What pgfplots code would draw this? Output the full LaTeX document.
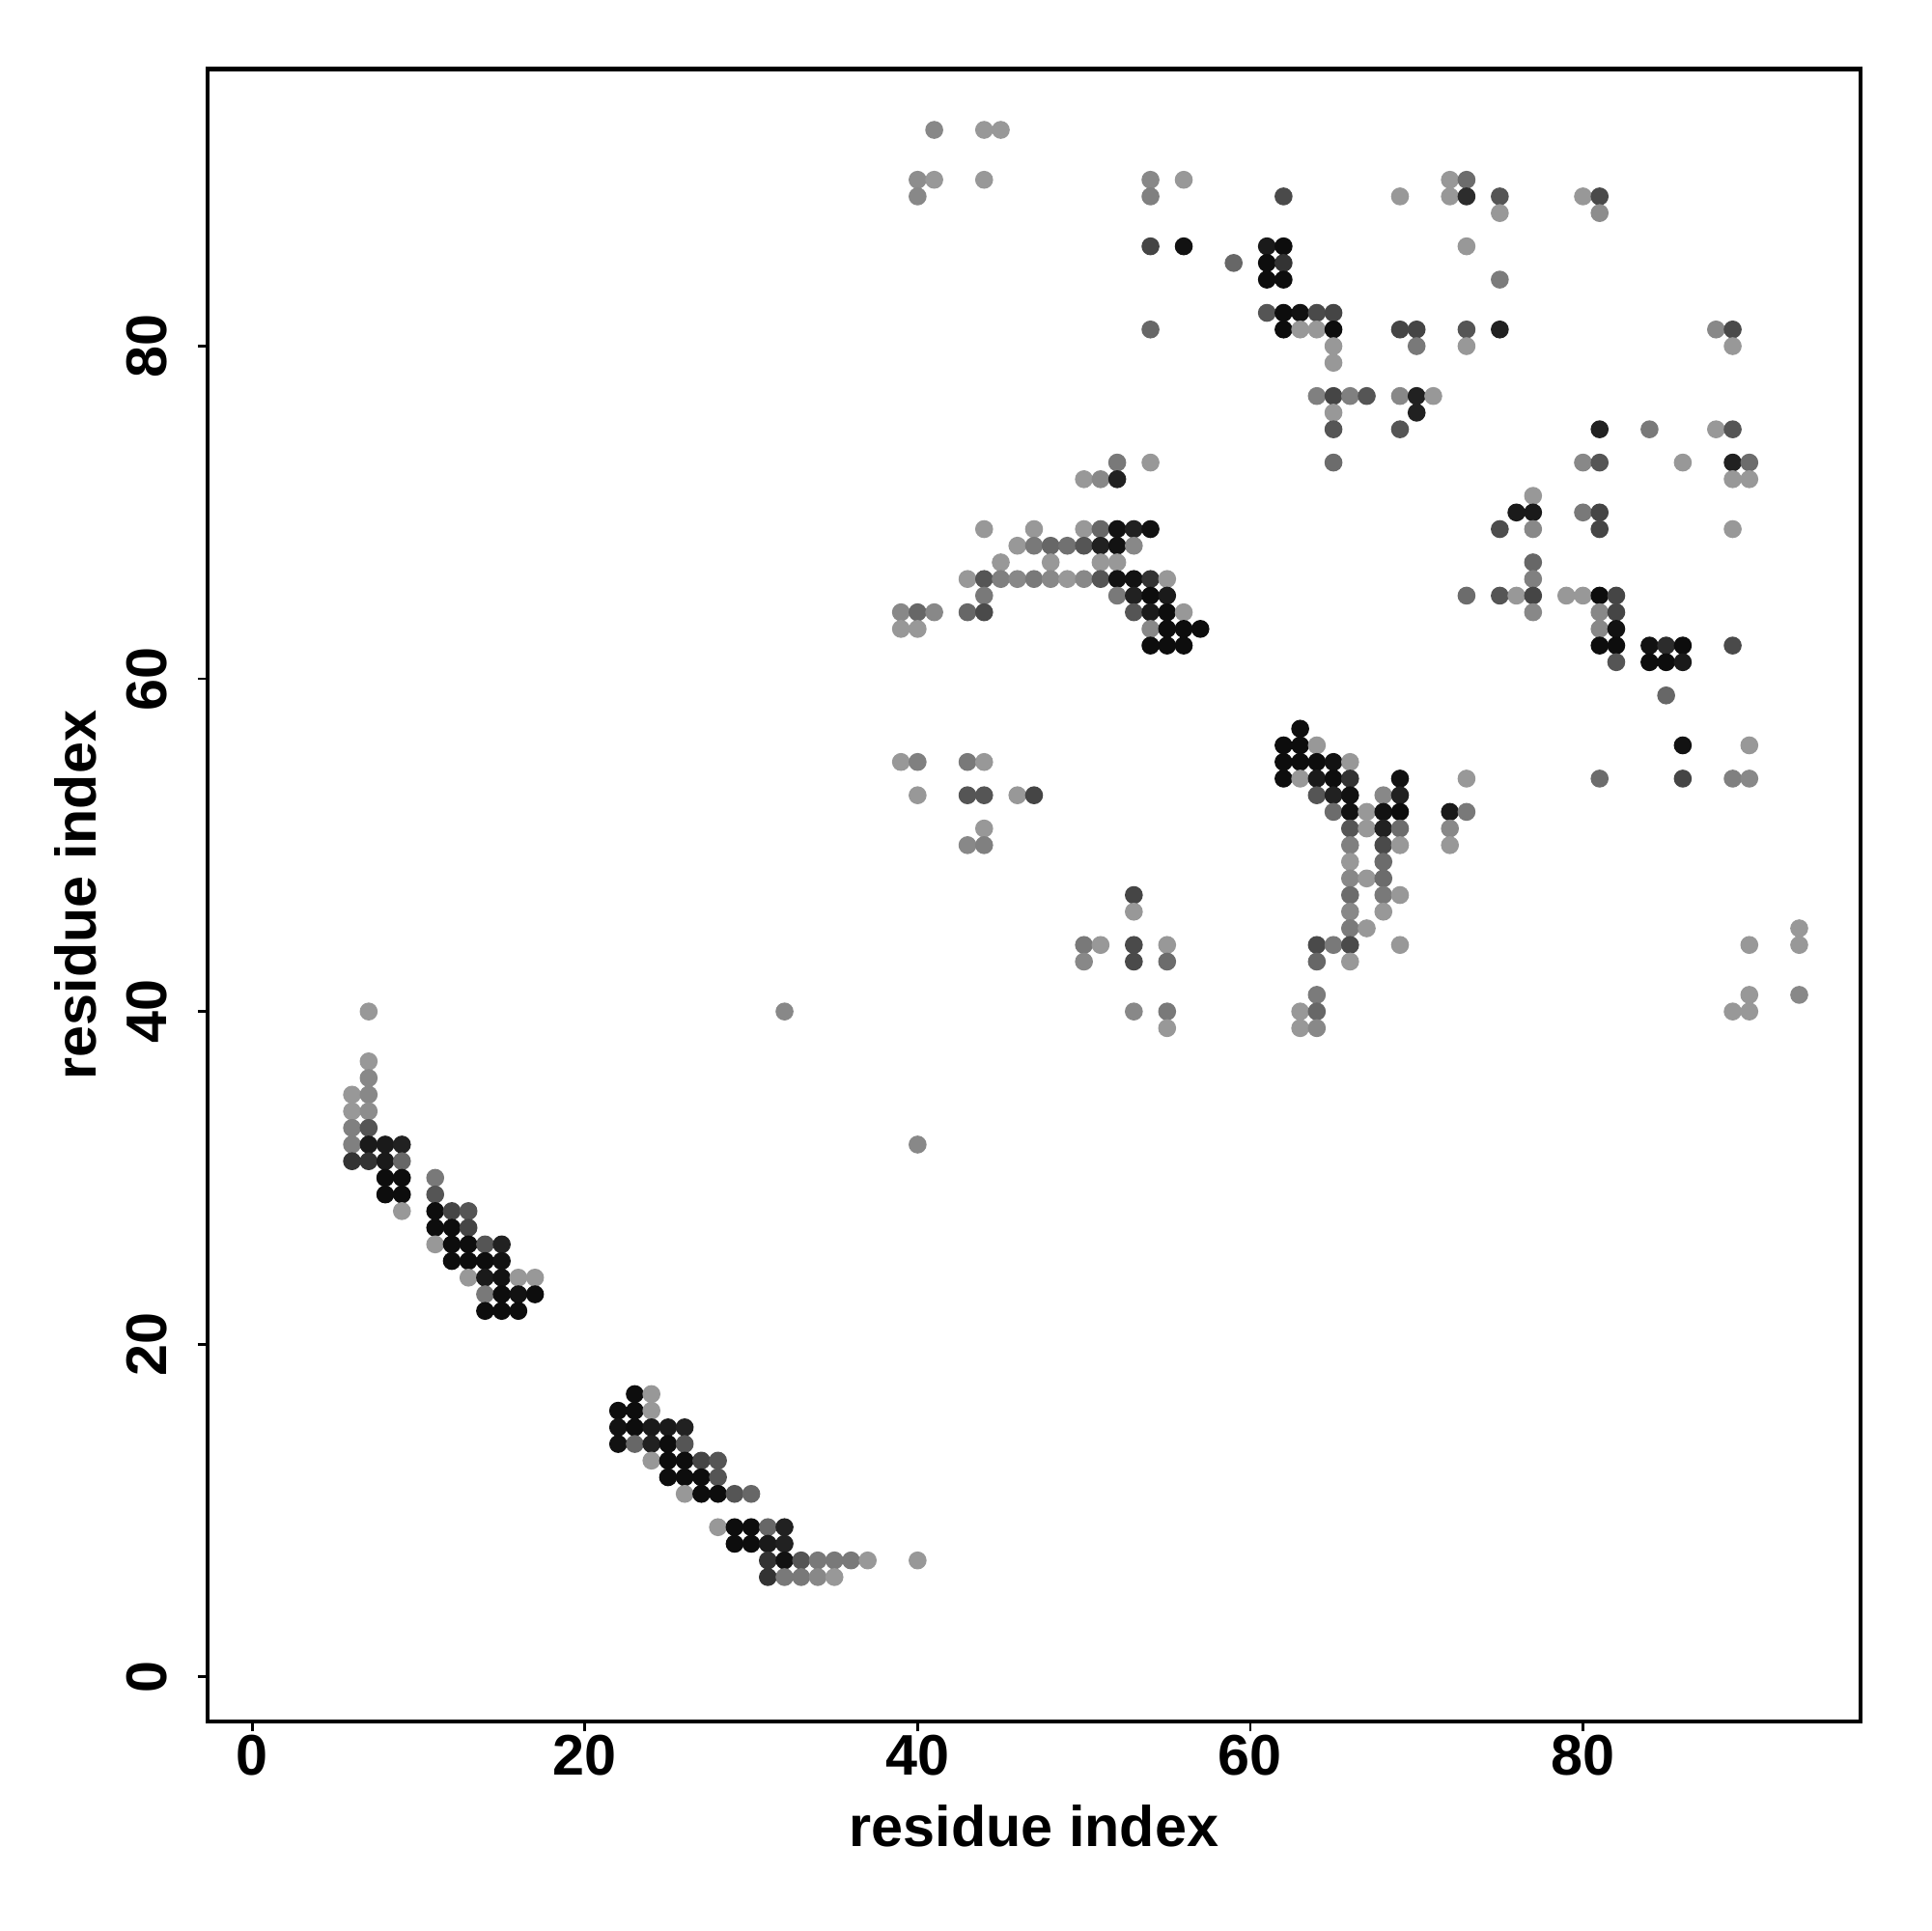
\documentclass[border=0pt]{standalone}
\usepackage{fontspec}
\setmainfont{Liberation Sans}
\usepackage{pgfplots}
\usepackage{pgfplotstable}
\pgfplotsset{compat=1.18}
\pgfplotstableread{
x y g
7 40 .59
7 37 .59
7 36 .53
6 35 .59
7 35 .53
6 34 .59
7 34 .55
6 33 .5
7 33 .33
6 32 .5
7 32 .1
8 32 .1
9 32 .13
6 31 .2
7 31 .2
8 31 .1
9 31 .4
8 30 .05
9 30 .05
8 29 .05
9 29 .05
9 28 .59
11 30 .47
11 29 .33
11 28 .05
12 28 .27
13 28 .33
11 27 .05
12 27 .05
13 27 .27
11 26 .59
12 26 .05
13 26 .05
14 26 .33
15 26 .13
12 25 .05
13 25 .05
14 25 .05
15 25 .07
13 24 .59
14 24 .1
15 24 .07
16 24 .59
17 24 .59
14 23 .47
15 23 .05
16 23 .07
17 23 .05
14 22 .05
15 22 .05
16 22 .05
23 17 .05
24 17 .59
22 16 .05
23 16 .05
24 16 .59
22 15 .07
23 15 .05
24 15 .1
25 15 .1
26 15 .13
22 14 .07
23 14 .4
24 14 .13
25 14 .05
26 14 .33
24 13 .59
25 13 .05
26 13 .05
27 13 .27
28 13 .33
25 12 .05
26 12 .05
27 12 .05
28 12 .33
26 11 .59
27 11 .05
28 11 .05
29 11 .33
30 11 .4
28 9 .59
29 9 .05
30 9 .05
31 9 .4
32 9 .13
29 8 .05
30 8 .05
31 8 .1
32 8 .13
31 7 .2
32 7 .07
33 7 .33
34 7 .47
35 7 .47
36 7 .47
37 7 .59
40 7 .59
31 6 .2
32 6 .47
33 6 .47
34 6 .53
35 6 .59
32 40 .53
40 32 .53
39 55 .59
40 55 .5
43 55 .47
44 55 .59
40 53 .59
43 53 .33
44 53 .33
46 53 .59
47 53 .27
44 51 .59
43 50 .53
44 50 .5
53 47 .27
53 46 .59
50 44 .47
51 44 .59
53 44 .29
55 44 .59
50 43 .53
53 43 .29
55 43 .42
53 40 .53
55 40 .47
55 39 .59
52 73 .47
54 73 .59
50 72 .59
51 72 .53
52 72 .13
44 69 .59
47 69 .59
50 69 .59
51 69 .4
52 69 .07
53 69 .13
54 69 .07
46 68 .59
47 68 .47
48 68 .4
49 68 .44
50 68 .33
51 68 .13
52 68 .07
53 68 .53
45 67 .59
48 67 .59
51 67 .59
52 67 .59
43 66 .59
44 66 .33
45 66 .5
46 66 .53
47 66 .47
48 66 .53
49 66 .59
50 66 .53
51 66 .33
52 66 .07
53 66 .07
54 66 .2
55 66 .59
44 65 .47
52 65 .47
53 65 .13
54 65 .05
55 65 .1
39 64 .53
40 64 .4
41 64 .53
43 64 .4
44 64 .29
53 64 .33
54 64 .1
55 64 .05
56 64 .59
39 63 .59
40 63 .59
54 63 .53
55 63 .05
56 63 .05
57 63 .05
54 62 .05
55 62 .05
56 62 .05
41 93 .53
44 93 .59
45 93 .59
40 90 .55
41 90 .59
44 90 .59
40 89 .53
54 90 .53
56 90 .59
54 89 .5
54 86 .27
56 86 .07
59 85 .4
54 81 .4
62 89 .29
69 89 .59
72 90 .59
73 90 .42
72 89 .59
73 89 .17
75 89 .33
75 88 .59
73 86 .59
75 84 .48
61 86 .1
62 86 .05
61 85 .05
62 85 .2
61 84 .05
62 84 .05
61 82 .33
62 82 .05
63 82 .07
64 82 .29
65 82 .27
62 81 .05
63 81 .59
64 81 .59
65 81 .05
65 80 .59
65 79 .59
69 81 .27
70 81 .27
73 81 .33
75 81 .13
70 80 .47
73 80 .59
64 77 .5
65 77 .27
66 77 .5
67 77 .33
69 77 .53
70 77 .13
71 77 .59
65 76 .59
70 76 .13
65 75 .33
69 75 .33
65 73 .42
75 69 .3
73 65 .42
75 65 .33
80 89 .59
81 89 .29
81 88 .55
88 81 .53
89 81 .29
89 80 .59
81 75 .13
84 75 .47
88 75 .59
89 75 .33
80 73 .53
81 73 .33
86 73 .59
89 73 .13
90 73 .42
89 72 .59
90 72 .59
77 71 .59
76 70 .1
77 70 .1
80 70 .47
81 70 .27
77 69 .53
81 69 .27
89 69 .59
77 67 .4
77 66 .5
76 65 .59
77 65 .27
79 65 .59
80 65 .59
81 65 .05
82 65 .27
77 64 .53
81 64 .53
82 64 .27
81 63 .53
82 63 .07
81 62 .05
82 62 .05
84 62 .07
85 62 .17
86 62 .05
89 62 .29
82 61 .33
84 61 .05
85 61 .05
86 61 .1
85 59 .4
86 56 .07
90 56 .59
81 54 .42
86 54 .27
89 54 .5
90 54 .53
63 57 .05
62 56 .05
63 56 .05
64 56 .59
62 55 .05
63 55 .05
64 55 .05
65 55 .07
66 55 .59
62 54 .05
63 54 .59
64 54 .1
65 54 .05
66 54 .2
69 54 .07
73 54 .59
64 53 .33
65 53 .13
66 53 .07
68 53 .53
69 53 .13
65 52 .42
66 52 .07
67 52 .59
68 52 .07
69 52 .05
72 52 .1
73 52 .47
66 51 .33
67 51 .59
68 51 .13
69 51 .42
72 51 .53
66 50 .5
68 50 .29
69 50 .59
72 50 .59
66 49 .59
68 49 .42
66 48 .53
67 48 .59
68 48 .42
66 47 .42
68 47 .47
69 47 .59
66 46 .53
68 46 .59
66 45 .48
67 45 .59
64 44 .29
65 44 .47
66 44 .29
69 44 .59
64 43 .4
66 43 .59
64 41 .48
63 40 .59
64 40 .4
63 39 .59
64 39 .53
90 44 .59
93 45 .59
93 44 .59
90 41 .59
90 40 .59
89 40 .59
93 41 .53
}\contacts
\begin{document}
\begin{tikzpicture}
\path (-54.4pt,-54.9pt) rectangle (451.5pt,451pt);
\begin{axis}[
  at={(0pt,0pt)}, anchor=south west,
  scale only axis, width=433pt, height=433pt,
  xmin=-2.68, xmax=96.68, ymin=-2.68, ymax=96.68,
  xtick={0,20,40,60,80}, ytick={0,20,40,60,80},
  tick pos=left, tick align=outside,
  major tick length=2.6pt,
  tick style={line width=0.7pt, black},
  axis line style={line width=1.2pt},
  /pgf/number format/assume math mode=true,
  every tick label/.append style={font=\fontsize{15}{18}\selectfont\bfseries},
  label style={font=\fontsize{15}{18}\selectfont\bfseries},
  xticklabel style={anchor=north, inner sep=0pt},
  yticklabel style={rotate=90, anchor=south, inner sep=0pt},
  xticklabel shift=0.8pt,
  yticklabel shift=7.7pt,
  xlabel={residue index}, ylabel={residue index},
  xlabel style={at={(axis description cs:0.5,-0.0631)}, anchor=center},
  ylabel style={at={(axis description cs:-0.0800,0.5)}, anchor=center},
  colormap={gr}{gray(0cm)=(0); gray(1cm)=(1)},
  point meta min=0, point meta max=1,
]
\addplot[scatter, only marks, mark=*, mark size=2.2pt,
  scatter/use mapped color={draw=mapped color, fill=mapped color},
  mark options={line width=0.3pt},
  point meta=\thisrow{g}] table[x=x, y=y] {\contacts};
\end{axis}
\end{tikzpicture}
\end{document}
